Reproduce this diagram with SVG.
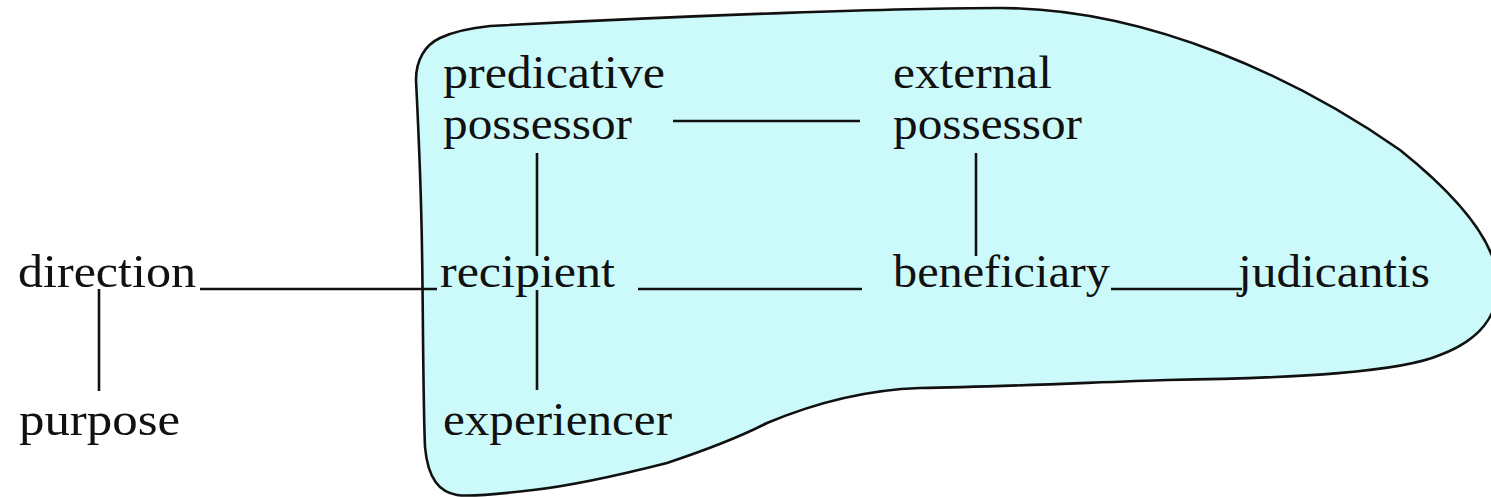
<svg xmlns="http://www.w3.org/2000/svg" width="1491" height="497" viewBox="0 0 1491 497">
<style>
.t{font-family:"Liberation Serif","Times New Roman",serif;font-size:46px;fill:#111}
.c line{stroke:#111;stroke-width:2.6}
.blob{fill:#CCFAFA;stroke:#111;stroke-width:2.6}
</style>
<rect width="1491" height="497" fill="#fff"/>
<path class="blob" d="M 416,80 C 416,60 425,45 440,38 C 455,31 470,28 490,26 C 700,15 900,8 1000,8 C 1150,8 1300,80 1400,150 C 1450,190 1498,240 1498,285 C 1498,315 1480,340 1440,355 C 1400,372 1300,378 1167,380 C 1100,382 1000,387 920,388 C 860,390 810,405 767,423 C 740,437 700,452 667,463 C 600,480 560,487 533,490 C 500,494 470,497 457,495 C 440,492 428,480 425,447 C 423,400 423,300 422,250 C 421,180 418,120 416,80 Z"/>
<g class="c" id="connectors">
<line x1="673" y1="121" x2="860" y2="121"/>
<line x1="537" y1="153" x2="537" y2="256"/>
<line x1="537" y1="290" x2="537" y2="390"/>
<line x1="976" y1="153" x2="976" y2="256"/>
<line x1="200" y1="289" x2="437" y2="289"/>
<line x1="99" y1="289" x2="99" y2="391"/>
<line x1="638" y1="289" x2="862" y2="289"/>
<line x1="1111" y1="289" x2="1242" y2="289"/>
</g>
<g id="predicative-possessor"><text class="t" x="443" y="88" textLength="222" lengthAdjust="spacingAndGlyphs">predicative</text><text class="t" x="443" y="139" textLength="189" lengthAdjust="spacingAndGlyphs">possessor</text></g>
<g id="external-possessor"><text class="t" x="893" y="88" textLength="159" lengthAdjust="spacingAndGlyphs">external</text><text class="t" x="893" y="139" textLength="189" lengthAdjust="spacingAndGlyphs">possessor</text></g>
<g id="direction"><text class="t" x="18" y="287" textLength="178" lengthAdjust="spacingAndGlyphs">direction</text></g>
<g id="recipient"><text class="t" x="440" y="287" textLength="175" lengthAdjust="spacingAndGlyphs">recipient</text></g>
<g id="beneficiary"><text class="t" x="893" y="287" textLength="217" lengthAdjust="spacingAndGlyphs">beneficiary</text></g>
<g id="judicantis"><text class="t" x="1238" y="287" textLength="192" lengthAdjust="spacingAndGlyphs">judicantis</text></g>
<g id="purpose"><text class="t" x="19" y="435" textLength="161" lengthAdjust="spacingAndGlyphs">purpose</text></g>
<g id="experiencer"><text class="t" x="443" y="435" textLength="229" lengthAdjust="spacingAndGlyphs">experiencer</text></g>
</svg>
